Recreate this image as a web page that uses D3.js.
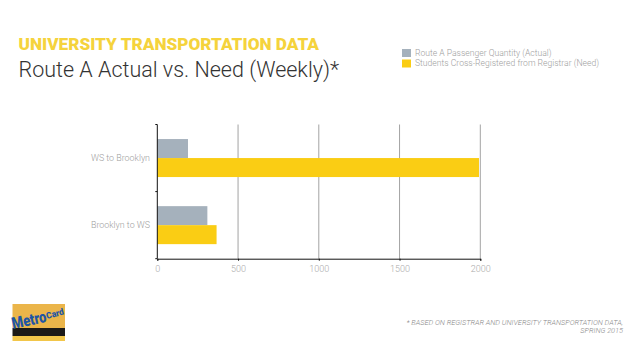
<!DOCTYPE html>
<html>
<head>
<meta charset="utf-8">
<script src="https://cdn.jsdelivr.net/npm/d3@7"></script>
<style>
  html, body { margin: 0; padding: 0; background: #fff; }
  svg { display: block; }
  text { font-family: Roboto, sans-serif; }
</style>
</head>
<body>
<svg id="chart" width="638" height="359"></svg>
<script>
const categories = ["WS to Brooklyn", "Brooklyn to WS"];
const seriesNames = ["Route A Passenger Quantity (Actual)", "Students Cross-Registered from Registrar (Need)"];
const actual = [190, 310];
const need = [1992, 367];
const xTicks = [0, 500, 1000, 1500, 2000];
const seriesColors = ["#a5b1bc", "#facd14"];

const svg = d3.select("#chart");

// Titles
svg.append("text")
  .attr("x", 18.5).attr("y", 49.5)
  .style("font-size", "17.2px").style("font-weight", 900)
  .attr("fill", "#f5d33c")
  .text("UNIVERSITY TRANSPORTATION DATA");

svg.append("text")
  .attr("x", 18.5).attr("y", 77)
  .style("font-size", "21.5px").style("font-weight", 300)
  .attr("fill", "#333")
  .text("Route A Actual vs. Need (Weekly)*");

// Legend
const legend = svg.append("g");
seriesNames.forEach(function (name, i) {
  legend.append("rect")
    .attr("x", 402).attr("y", 49 + i * 10.5)
    .attr("width", 9).attr("height", 8)
    .attr("fill", seriesColors[i]);
  legend.append("text")
    .attr("x", 415).attr("y", 55.5 + i * 10.5)
    .style("font-size", "8.6px").style("font-weight", 300)
    .attr("fill", "#a0a0a0")
    .text(name);
});

// Scales
const xScale = d3.scaleLinear().domain([0, 2000]).range([157.3, 480.3]);
const yScale = d3.scaleBand().domain(categories).range([124.5, 258.7]);
const barHeight = 19;

// Grid lines
svg.append("g")
  .selectAll("line")
  .data(xTicks.slice(1))
  .enter()
  .append("line")
  .attr("x1", (d) => xScale(d))
  .attr("x2", (d) => xScale(d))
  .attr("y1", yScale.range()[0])
  .attr("y2", yScale.range()[1])
  .attr("stroke", "#a3a3a3")
  .attr("stroke-width", 1);

// Bars
const groups = svg.append("g")
  .selectAll("g")
  .data(categories)
  .enter()
  .append("g");

[actual, need].forEach(function (values, s) {
  groups.append("rect")
    .attr("x", xScale(0))
    .attr("y", (d) => yScale(d) + yScale.bandwidth() / 2 - barHeight + s * barHeight)
    .attr("width", (d, i) => xScale(values[i]) - xScale(0))
    .attr("height", barHeight)
    .attr("fill", seriesColors[s]);
});

// X axis
const xAxis = svg.append("g")
  .attr("transform", "translate(0," + yScale.range()[1] + ")")
  .call(d3.axisBottom(xScale).tickValues(xTicks).tickFormat(d3.format("d")).tickSize(2).tickPadding(5));
xAxis.select(".domain").attr("stroke", "#111").attr("stroke-width", 1);
xAxis.selectAll("line").attr("stroke", "#111");
xAxis.selectAll("text")
  .style("font-family", "Roboto, sans-serif")
  .style("font-size", "9px").style("font-weight", 300)
  .attr("fill", "#aaa");

// Y axis line with ticks at the band edges
svg.append("line")
  .attr("x1", xScale(0)).attr("x2", xScale(0))
  .attr("y1", yScale.range()[0]).attr("y2", yScale.range()[1])
  .attr("stroke", "#111");
svg.append("g")
  .selectAll("line")
  .data(categories.concat(["end"]))
  .enter()
  .append("line")
  .attr("x1", xScale(0) - 2).attr("x2", xScale(0))
  .attr("y1", (d, i) => yScale.range()[0] + i * yScale.step())
  .attr("y2", (d, i) => yScale.range()[0] + i * yScale.step())
  .attr("stroke", "#111");
svg.append("g")
  .selectAll("text")
  .data(categories)
  .enter()
  .append("text")
  .attr("x", 150)
  .attr("y", (d) => yScale(d) + yScale.bandwidth() / 2 + 2.5)
  .attr("text-anchor", "end")
  .style("font-size", "8.9px").style("font-weight", 300)
  .attr("fill", "#a0a0a0")
  .text((d) => d);

// Footnote
const note = svg.append("g").attr("text-anchor", "end")
  .style("font-size", "7.36px").style("font-style", "italic").style("font-weight", 300)
  .attr("fill", "#888");
note.append("text").attr("x", 623).attr("y", 324.5).text("* BASED ON REGISTRAR AND UNIVERSITY TRANSPORTATION DATA,");
note.append("text").attr("x", 623).attr("y", 332.5).text("SPRING 2015");

// MetroCard logo
const logo = svg.append("g");
logo.append("rect").attr("x", 12.5).attr("y", 304).attr("width", 52.5).attr("height", 24).attr("fill", "#ebb54a");
logo.append("rect").attr("x", 12.5).attr("y", 328).attr("width", 52.5).attr("height", 8).attr("fill", "#1c1a17");
logo.append("rect").attr("x", 12.5).attr("y", 336).attr("width", 52.5).attr("height", 5).attr("fill", "#f2c64a");
logo.append("text")
  .attr("transform", "translate(13,329) rotate(-12)")
  .attr("textLength", 35).attr("lengthAdjust", "spacingAndGlyphs")
  .style("font-size", "16px").style("font-weight", 900)
  .attr("fill", "#1f55a5")
  .text("Metro");
logo.append("text")
  .attr("transform", "translate(47,319) rotate(-15)")
  .attr("textLength", 18).attr("lengthAdjust", "spacingAndGlyphs")
  .style("font-size", "9px").style("font-weight", 900)
  .attr("fill", "#1f55a5")
  .text("Card");
</script>
</body>
</html>
